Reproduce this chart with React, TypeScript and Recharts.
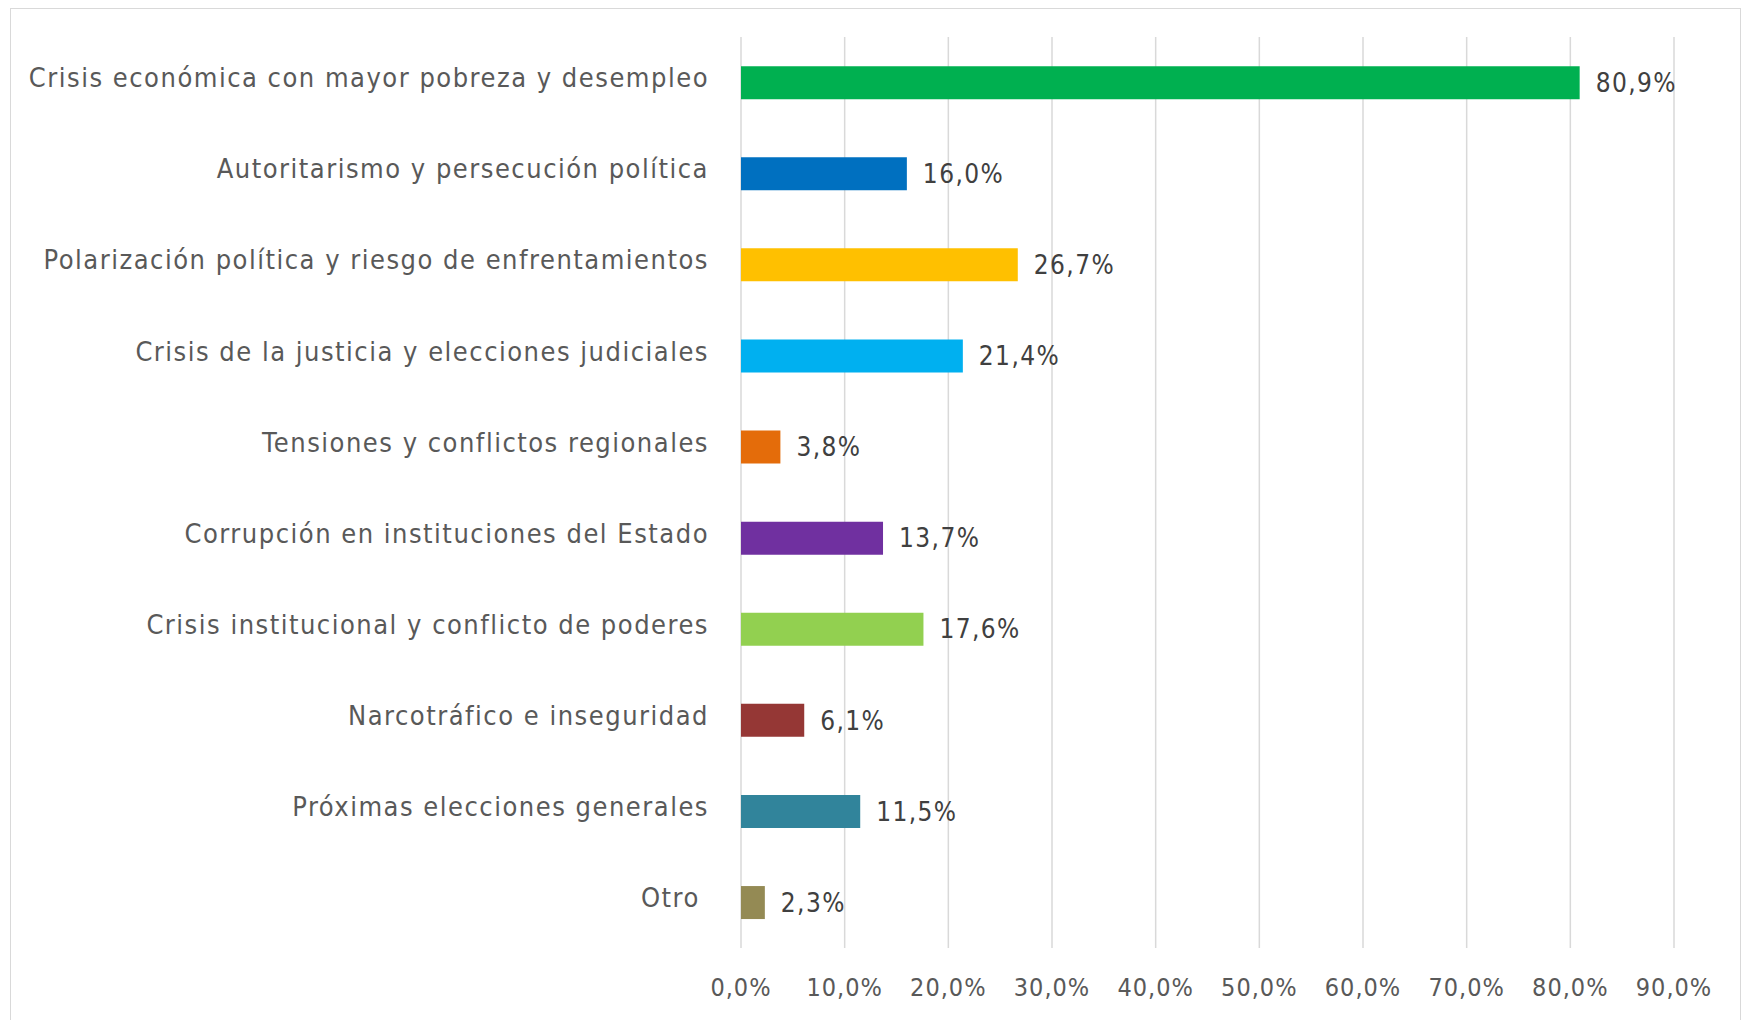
import React from "react";
import { BarChart, Bar, XAxis, YAxis, CartesianGrid, LabelList, Cell } from "recharts";

const categories = [
  "Crisis económica con mayor pobreza y desempleo",
  "Autoritarismo y persecución política",
  "Polarización política y riesgo de enfrentamientos",
  "Crisis de la justicia y elecciones judiciales",
  "Tensiones y conflictos regionales",
  "Corrupción en instituciones del Estado",
  "Crisis institucional y conflicto de poderes",
  "Narcotráfico e inseguridad",
  "Próximas elecciones generales",
  "Otro ",
];
const values = [80.9, 16.0, 26.7, 21.4, 3.8, 13.7, 17.6, 6.1, 11.5, 2.3];
const colors = [
  "#00B050", "#0070C0", "#FFC000", "#00B0F0", "#E46C0A",
  "#7030A0", "#92D050", "#953735", "#31849B", "#948A54",
];
const xTicks = [0, 10, 20, 30, 40, 50, 60, 70, 80, 90];

const data = categories.map((c, i) => ({ name: c, value: values[i] }));
const fmt = (v: number) => v.toFixed(1).replace(".", ",") + "%";
const FONT = "'DejaVu Sans Condensed', 'DejaVu Sans', sans-serif";

const YTick = (props: any) => {
  const { x, y, payload } = props;
  return (
    <text
      x={x}
      y={y - 5}
      dy="0.36em"
      textAnchor="end"
      fill="#595959"
      fontSize={27}
      fontFamily={FONT}
      style={{ letterSpacing: 1.5, whiteSpace: "pre" }}
    >
      {payload.value}
    </text>
  );
};

export default function App() {
  return (
    <div style={{ position: "absolute", left: 0, top: 0, width: 1744, height: 1020, background: "#fff" }}>
      <div style={{ position: "absolute", left: 10, top: 8, width: 1731, height: 1030, border: "1.5px solid #d9d9d9", boxSizing: "border-box" }} />
      <div style={{ position: "absolute", left: 0, top: 0 }}>
        <BarChart
          width={1744}
          height={1020}
          data={data}
          layout="vertical"
          margin={{ top: 37, right: 70, bottom: 0, left: 0 }}
          barCategoryGap="32%"
        >
          <CartesianGrid horizontal={false} vertical={true} stroke="#d9d9d9" strokeWidth={1.5} />
          <XAxis
            type="number"
            domain={[0, 90]}
            ticks={xTicks}
            tickFormatter={(v: number) => fmt(v)}
            axisLine={false}
            tickLine={false}
            height={72}
            tickMargin={24}
            interval={0}
            tick={{ fill: "#595959", fontSize: 25, fontFamily: FONT, style: { letterSpacing: 1 } }}
          />
          <YAxis
            type="category"
            dataKey="name"
            width={741}
            axisLine={false}
            tickLine={false}
            tickSize={0}
            tickMargin={32}
            interval={0}
            tick={<YTick />}
          />
          <Bar dataKey="value" isAnimationActive={false}>
            {data.map((d, i) => (
              <Cell key={i} fill={colors[i]} />
            ))}
            <LabelList
              dataKey="value"
              position="right"
              offset={16}
              formatter={(v: number) => fmt(v)}
              style={{ fill: "#404040", fontSize: 26, fontFamily: FONT, letterSpacing: 1.4 }}
            />
          </Bar>
        </BarChart>
      </div>
    </div>
  );
}
